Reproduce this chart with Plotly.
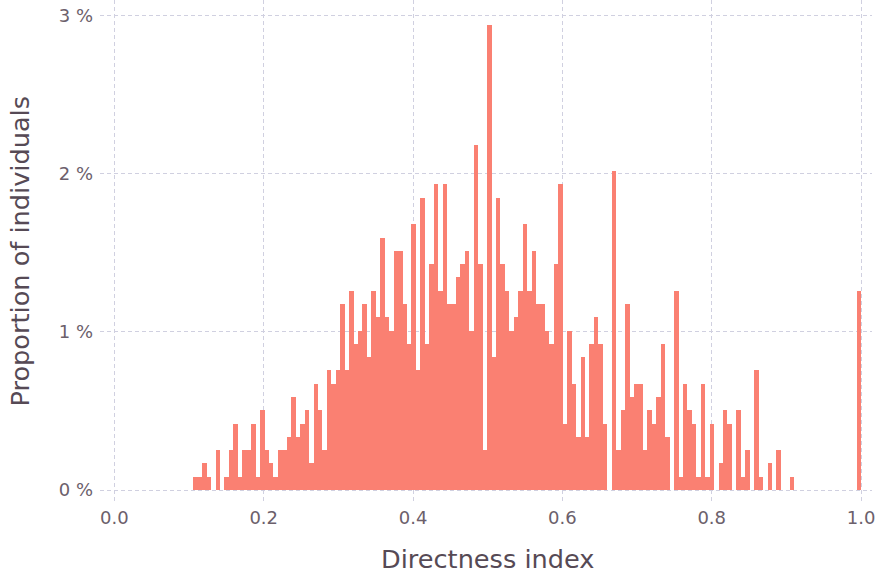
import plotly.graph_objects as go

# Histogram of directness index: 150 equal bins from BIN_START to BIN_END
BIN_START = 0.1057
BIN_END = 1.0
N_INDIVIDUALS = 1190

# Counts per bin
bin_counts = [
    1, 1, 2, 1, 0, 3, 0, 1, 3, 5,
    1, 3, 3, 5, 1, 6, 3, 2, 1, 3,
    3, 4, 7, 4, 5, 6, 2, 8, 6, 3,
    9, 8, 9, 14, 9, 15, 11, 12, 14, 10,
    15, 13, 19, 13, 12, 18, 18, 14, 11, 20,
    9, 22, 11, 17, 23, 15, 23, 14, 14, 16,
    17, 18, 12, 26, 17, 3, 35, 10, 22, 17,
    15, 12, 13, 15, 20, 15, 18, 14, 14, 12,
    11, 17, 23, 5, 12, 8, 4, 10, 4, 11,
    13, 11, 5, 0, 24, 3, 6, 14, 7, 8,
    8, 3, 6, 5, 7, 11, 4, 0, 15, 1,
    8, 6, 5, 1, 8, 1, 5, 0, 2, 6,
    5, 0, 6, 1, 3, 0, 9, 1, 0, 2,
    0, 3, 0, 0, 1, 0, 0, 0, 0, 0,
    0, 0, 0, 0, 0, 0, 0, 0, 0, 15,
]

x_tick_vals = [0.0, 0.2, 0.4, 0.6, 0.8, 1.0]
x_tick_text = ["0.0", "0.2", "0.4", "0.6", "0.8", "1.0"]
y_tick_vals = [0, 1, 2, 3]
y_tick_text = ["0 %", "1 %", "2 %", "3 %"]

n_bins = len(bin_counts)
bin_width = (BIN_END - BIN_START) / n_bins
bin_centers = [BIN_START + (i + 0.5) * bin_width for i in range(n_bins)]
percents = [c / N_INDIVIDUALS * 100 for c in bin_counts]

TICK_COLOR = "#6c606b"
LABEL_COLOR = "#564a55"
GRID_COLOR = "#d0d0e0"
FONT = "DejaVu Sans"

fig = go.Figure(
    go.Bar(
        x=bin_centers,
        y=percents,
        width=bin_width,
        marker=dict(color="#FA8072", line=dict(width=0)),
        hoverinfo="x+y",
    )
)

W, H = 878, 572
ML, MR, MT, MB = 100, 6, 0, 70
PW = W - ML - MR
PH = H - MT - MB

fig.update_layout(
    width=W,
    height=H,
    margin=dict(l=ML, r=MR, t=MT, b=MB, pad=0),
    plot_bgcolor="white",
    paper_bgcolor="white",
    bargap=0,
    showlegend=False,
    font=dict(family=FONT, color=TICK_COLOR),
    xaxis=dict(
        range=[-0.0193, 1.0147],
        tickvals=x_tick_vals,
        ticktext=x_tick_text,
        showgrid=True,
        gridcolor=GRID_COLOR,
        griddash="4px,3px",
        gridwidth=1,
        zeroline=False,
        showline=False,
        ticks="",
        tickfont=dict(size=18, color=TICK_COLOR, family=FONT),
        ticklabelstandoff=3,
    ),
    yaxis=dict(
        range=[-0.0759, 3.099],
        tickvals=y_tick_vals,
        ticktext=y_tick_text,
        showgrid=True,
        gridcolor=GRID_COLOR,
        griddash="4px,3px",
        gridwidth=1,
        zeroline=False,
        showline=False,
        ticks="",
        tickfont=dict(size=18, color=TICK_COLOR, family=FONT),
        ticklabelstandoff=6,
    ),
    annotations=[
        dict(
            text="Directness index",
            xref="paper", yref="paper",
            x=(487 - ML) / PW, y=(PH - 559) / PH,
            xanchor="center", yanchor="middle",
            showarrow=False,
            font=dict(size=25.6, color=LABEL_COLOR, family=FONT),
        ),
        dict(
            text="Proportion of individuals",
            xref="paper", yref="paper",
            x=(19 - ML) / PW, y=(PH - 251.5) / PH,
            xanchor="center", yanchor="middle",
            textangle=-90,
            showarrow=False,
            font=dict(size=25.6, color=LABEL_COLOR, family=FONT),
        ),
    ],
)

fig.write_html(
    "out.html",
    config={"displayModeBar": False},
    post_script="document.body.style.margin='0';document.body.style.overflow='hidden';",
)
